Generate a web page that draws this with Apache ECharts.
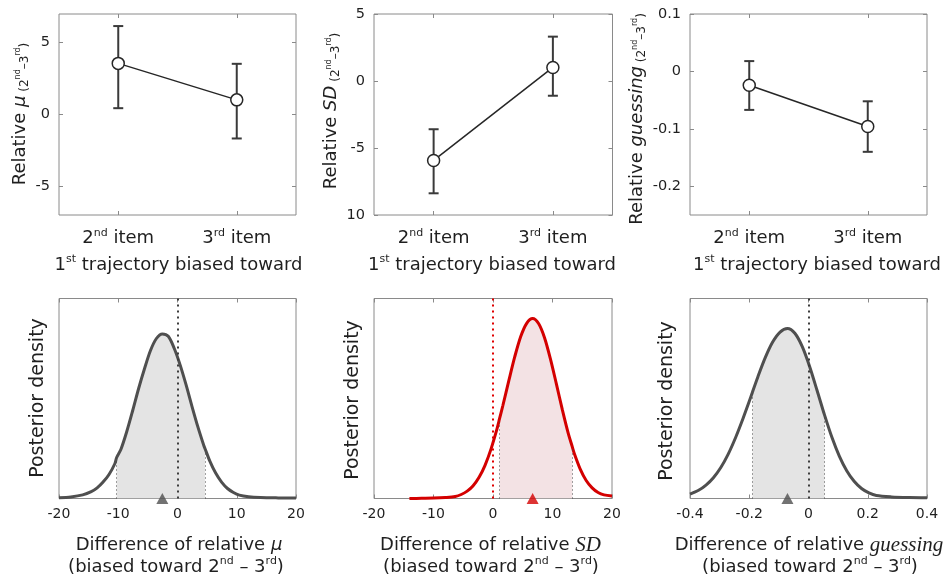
<!DOCTYPE html>
<html>
<head>
<meta charset="utf-8">
<script src="https://cdn.jsdelivr.net/npm/echarts@6/dist/echarts.min.js"></script>
<style>html,body{margin:0;padding:0;background:#fff}#c{width:950px;height:584px}</style>
</head>
<body>
<div id="c"></div>
<script>
// ---------- DATA ----------
const topCats = ['2nd item', '3rd item'];
// Relative mu
const muMean = [3.56, 1.02];
const muLo = [0.44, -1.67];
const muHi = [6.16, 3.53];
const muRange = [-7, 7];
const muTicks = [-5, 0, 5];
const muTickLabels = ['-5', '0', '5'];
// Relative SD
const sdMean = [-5.93, 1.01];
const sdLo = [-8.38, -1.10];
const sdHi = [-3.60, 3.31];
const sdRange = [-10, 5];
const sdTicks = [-10, -5, 0, 5];
const sdTickLabels = ['10', '-5', '0', '5'];
// Relative guessing
const gsMean = [-0.024, -0.096];
const gsLo = [-0.067, -0.140];
const gsHi = [0.018, -0.052];
const gsRange = [-0.25, 0.1];
const gsTicks = [-0.2, -0.1, 0, 0.1];
const gsTickLabels = ['-0.2', '-0.1', '0', '0.1'];

// Posterior densities (height as a fraction of the panel height)
const muDiffX = [-20, -18, -16, -14.56, -13.56, -12.56, -11.56, -10.56, -10.27, -9.56, -8.56, -7.56, -6.56, -5.56, -4.56, -3.56, -2.56, -1.56, -0.56, 0.44, 1.44, 2.44, 3.44, 4.44, 4.65, 5.44, 6.44, 7.44, 8.44, 9.44, 10.44, 12, 14, 17, 20];
const muDiffY = [0.004, 0.008, 0.018, 0.034, 0.053, 0.082, 0.12, 0.175, 0.205, 0.245, 0.335, 0.44, 0.55, 0.65, 0.74, 0.80, 0.823, 0.811, 0.751, 0.668, 0.569, 0.461, 0.358, 0.265, 0.249, 0.188, 0.127, 0.082, 0.050, 0.030, 0.017, 0.009, 0.005, 0.003, 0.002];
const muHdi = [-10.27, 4.65];
const muPeak = -2.56;

const sdDiffX = [-14.05, -12, -10, -8, -6.34, -5.34, -4.34, -3.34, -2.34, -1.34, -0.34, 0.66, 1.1, 1.66, 2.66, 3.66, 4.66, 5.66, 6.66, 7.66, 8.66, 9.66, 10.66, 11.66, 12.66, 13.33, 13.66, 14.66, 15.66, 16.66, 17.66, 18.66, 20];
const sdDiffY = [0, 0.001, 0.002, 0.005, 0.010, 0.020, 0.037, 0.064, 0.106, 0.166, 0.247, 0.347, 0.399, 0.465, 0.589, 0.709, 0.81, 0.876, 0.9, 0.875, 0.804, 0.697, 0.572, 0.443, 0.324, 0.258, 0.225, 0.147, 0.09, 0.053, 0.030, 0.018, 0.012];
const sdHdi = [1.1, 13.33];
const sdPeak = 6.66;

const gsDiffX = [-0.4, -0.371, -0.346, -0.321, -0.296, -0.271, -0.246, -0.221, -0.196, -0.189, -0.171, -0.146, -0.121, -0.096, -0.071, -0.046, -0.021, 0.004, 0.029, 0.054, 0.079, 0.104, 0.129, 0.154, 0.179, 0.204, 0.229, 0.28, 0.34, 0.4];
const gsDiffY = [0.022, 0.041, 0.067, 0.104, 0.155, 0.222, 0.305, 0.40, 0.502, 0.533, 0.608, 0.704, 0.782, 0.832, 0.85, 0.826, 0.759, 0.659, 0.54, 0.418, 0.306, 0.212, 0.139, 0.086, 0.050, 0.028, 0.015, 0.008, 0.005, 0.004];
const gsHdi = [-0.189, 0.054];
const gsPeak = -0.071;

const diffTicks20 = [-20, -10, 0, 10, 20];
const diffTickLabels20 = ['-20', '-10', '0', '10', '20'];
const diffTicks04 = [-0.4, -0.2, 0, 0.2, 0.4];
const diffTickLabels04 = ['-0.4', '-0.2', '0', '0.2', '0.4'];

// ---------- STYLE ----------
const FONT = 'DejaVu Sans';
const TXT = '#1f1f1f';
const BOX = '#8a8a8a';
const GRAY = '#4f4f4f';
const RED = '#d40000';

const topGrids = [
  {left: 59, top: 14, width: 237, height: 201},
  {left: 374, top: 14, width: 238.5, height: 201},
  {left: 690, top: 14, width: 237, height: 201}
];
const botGrids = [
  {left: 59, top: 298.5, width: 237, height: 200},
  {left: 374, top: 298.5, width: 238, height: 200},
  {left: 690, top: 298.5, width: 237, height: 200}
];

const catRich = {
  a: {fontFamily: FONT, fontSize: 18, lineHeight: 20, color: TXT},
  s: {fontFamily: FONT, fontSize: 11, lineHeight: 11, verticalAlign: 'top', color: TXT}
};
function catLabel(v) {
  return v.replace(/^(\d)(st|nd|rd|th)(.*)$/, '{a|$1}{s|$2}{a|$3}');
}
function labelFor(ticks, labels) {
  return function (v) {
    for (let i = 0; i < ticks.length; i++) if (Math.abs(ticks[i] - v) < 1e-9) return labels[i];
    return '';
  };
}

const grid = [], xAxis = [], yAxis = [], series = [];
const noLine = {show: false, onZero: false};

function errRender(params, api) {
  const x = api.value(0);
  const p1 = api.coord([x, api.value(1)]);
  const p2 = api.coord([x, api.value(2)]);
  const w = 5;
  const st = {stroke: '#3a3a3a', lineWidth: 2};
  return {type: 'group', children: [
    {type: 'line', shape: {x1: p1[0], y1: p1[1], x2: p2[0], y2: p2[1]}, style: st},
    {type: 'line', shape: {x1: p1[0] - w, y1: p1[1], x2: p1[0] + w, y2: p1[1]}, style: st},
    {type: 'line', shape: {x1: p2[0] - w, y1: p2[1], x2: p2[0] + w, y2: p2[1]}, style: st}
  ]};
}

function addTop(gi, g, range, ticks, labels, mean, lo, hi) {
  grid.push(Object.assign({show: true, borderColor: BOX, borderWidth: 1, backgroundColor: 'transparent', containLabel: false, outerBoundsMode: 'none'}, g));
  const xi = xAxis.length, yi = yAxis.length;
  const tick = {show: true, inside: true, length: 4, alignWithLabel: true, interval: 0, lineStyle: {color: BOX}};
  xAxis.push({type: 'category', gridIndex: gi, data: topCats, boundaryGap: true, axisLine: noLine,
    axisTick: tick, splitLine: {show: false},
    axisLabel: {interval: 0, margin: 13, formatter: catLabel, rich: catRich, color: TXT}});
  xAxis.push({type: 'category', gridIndex: gi, position: 'top', data: topCats, boundaryGap: true, axisLine: noLine,
    axisTick: tick, axisLabel: {show: false, interval: 0}, splitLine: {show: false}});
  const ytick = {show: true, inside: true, length: 4, customValues: ticks, lineStyle: {color: BOX}};
  yAxis.push({type: 'value', gridIndex: gi, min: range[0], max: range[1], axisLine: noLine, splitLine: {show: false},
    axisTick: ytick,
    axisLabel: {customValues: ticks, margin: 9, fontFamily: FONT, fontSize: 14.5, color: TXT, formatter: labelFor(ticks, labels)}});
  yAxis.push({type: 'value', gridIndex: gi, position: 'right', min: range[0], max: range[1], axisLine: noLine, splitLine: {show: false},
    axisTick: ytick, axisLabel: {show: false, customValues: ticks}});
  series.push({type: 'custom', xAxisIndex: xi, yAxisIndex: yi, renderItem: errRender, silent: true, z: 2,
    data: topCats.map((c, i) => [i, lo[i], hi[i]])});
  series.push({type: 'line', xAxisIndex: xi, yAxisIndex: yi, data: mean, symbol: 'circle', symbolSize: 12, silent: true, z: 3,
    itemStyle: {color: '#ffffff', borderColor: '#262626', borderWidth: 1.5},
    lineStyle: {color: '#262626', width: 1.5}});
}

function addBot(gi, g, range, ticks, labels, xs, ys, hdi, peak, color, fill, zeroColor) {
  grid.push(Object.assign({show: true, borderColor: BOX, borderWidth: 1, backgroundColor: 'transparent', containLabel: false, outerBoundsMode: 'none'}, g));
  const xi = xAxis.length, yi = yAxis.length;
  const tick = {show: true, inside: true, length: 4, customValues: ticks, lineStyle: {color: BOX}};
  xAxis.push({type: 'value', gridIndex: gi, min: range[0], max: range[1], axisLine: noLine, splitLine: {show: false},
    axisTick: tick,
    axisLabel: {customValues: ticks, margin: 9, fontFamily: FONT, fontSize: 14, color: TXT, formatter: labelFor(ticks, labels)}});
  xAxis.push({type: 'value', gridIndex: gi, position: 'top', min: range[0], max: range[1], axisLine: noLine, splitLine: {show: false},
    axisTick: tick, axisLabel: {show: false, customValues: ticks}});
  yAxis.push({type: 'value', gridIndex: gi, min: 0, max: 1, axisLine: noLine, splitLine: {show: false},
    axisTick: {show: false}, axisLabel: {show: false}});
  const pts = xs.map((x, i) => [x, ys[i]]);
  const fillPts = pts.filter(p => p[0] >= hdi[0] - 1e-9 && p[0] <= hdi[1] + 1e-9);
  const hLo = ys[xs.indexOf(hdi[0])], hHi = ys[xs.indexOf(hdi[1])];
  const thin = {type: [1, 3], width: 1, color: '#444'};
  series.push({type: 'line', xAxisIndex: xi, yAxisIndex: yi, data: fillPts, smooth: 0.3, showSymbol: false, silent: true, z: 1,
    lineStyle: {width: 0}, areaStyle: {color: fill, opacity: 1},
    markLine: {silent: true, symbol: 'none', label: {show: false}, animation: false,
      data: [
        [{coord: [hdi[0], 0], lineStyle: thin}, {coord: [hdi[0], hLo]}],
        [{coord: [hdi[1], 0], lineStyle: thin}, {coord: [hdi[1], hHi]}],
        {xAxis: 0, lineStyle: {type: [2, 4], width: 2, color: zeroColor}}
      ]}});
  series.push({type: 'line', xAxisIndex: xi, yAxisIndex: yi, data: pts, smooth: 0.3, showSymbol: false, silent: true, z: 3,
    lineStyle: {width: 3, color: color}});
  series.push({type: 'scatter', xAxisIndex: xi, yAxisIndex: yi, data: [[peak, 0]], symbol: 'triangle', symbolSize: [12, 11],
    itemStyle: {color: color}, silent: true, z: 5, clip: false});
}

addTop(0, topGrids[0], muRange, muTicks, muTickLabels, muMean, muLo, muHi);
addTop(1, topGrids[1], sdRange, sdTicks, sdTickLabels, sdMean, sdLo, sdHi);
addTop(2, topGrids[2], gsRange, gsTicks, gsTickLabels, gsMean, gsLo, gsHi);
addBot(3, botGrids[0], [-20, 20], diffTicks20, diffTickLabels20, muDiffX, muDiffY, muHdi, muPeak, GRAY, '#e4e4e4', '#3c3c3c');
addBot(4, botGrids[1], [-20, 20], diffTicks20, diffTickLabels20, sdDiffX, sdDiffY, sdHdi, sdPeak, RED, '#f3e2e4', '#e00000');
addBot(5, botGrids[2], [-0.4, 0.4], diffTicks04, diffTickLabels04, gsDiffX, gsDiffY, gsHdi, gsPeak, GRAY, '#e4e4e4', '#3c3c3c');

// ---------- TEXT ----------
const G = {
  a: {fontFamily: FONT, fontSize: 18, lineHeight: 22, fill: TXT},
  p: {fontFamily: FONT, fontSize: 19, lineHeight: 22, fill: TXT},
  s: {fontFamily: FONT, fontSize: 11, lineHeight: 11, verticalAlign: 'top', fill: TXT},
  i: {fontFamily: FONT, fontStyle: 'italic', fontSize: 18, lineHeight: 22, fill: TXT},
  r: {fontFamily: 'Liberation Serif', fontStyle: 'italic', fontSize: 21, lineHeight: 22, fill: TXT},
  m: {fontFamily: FONT, fontSize: 12, lineHeight: 14, verticalAlign: 'bottom', fill: TXT},
  n: {fontFamily: FONT, fontSize: 8, lineHeight: 8, verticalAlign: 'top', padding: [5, 0, 0, 0], fill: TXT}
};
function txt(x, y, text, rot) {
  return {type: 'text', x: x, y: y, rotation: rot ? Math.PI / 2 : 0, silent: true, z: 100,
    style: {text: text, rich: G, fontFamily: FONT, fontSize: 18, fill: TXT, align: 'center', verticalAlign: 'middle'}};
}
const supPart = '{m| (2}{n|nd}{m|–3}{n|rd}{m|)}';
const biased = '{a|(biased toward 2}{s|nd}{a| – 3}{s|rd}{a|)}';
const trajectory = '{a|1}{s|st}{a| trajectory biased toward}';
const graphic = [
  txt(20, 114, '{a|Relative }{i|μ}' + supPart, true),
  txt(331, 111, '{a|Relative }{i|SD}' + supPart, true),
  txt(637, 119, '{a|Relative }{i|guessing}' + supPart, true),
  txt(178.5, 265, trajectory),
  txt(492, 265, trajectory),
  txt(817, 265, trajectory),
  txt(38, 398, '{p|Posterior density}', true),
  txt(353, 400, '{p|Posterior density}', true),
  txt(667, 401, '{p|Posterior density}', true),
  txt(179, 545, '{a|Difference of relative }{i|μ}'),
  txt(176, 567, biased),
  txt(490.5, 545, '{a|Difference of relative }{r|SD}'),
  txt(491, 567, biased),
  txt(809, 545, '{a|Difference of relative }{r|guessing}'),
  txt(810, 567, biased)
];

const chart = echarts.init(document.getElementById('c'), null, {renderer: 'canvas'});
chart.setOption({
  animation: false,
  backgroundColor: '#ffffff',
  grid: grid,
  xAxis: xAxis,
  yAxis: yAxis,
  series: series,
  graphic: graphic
});
</script>
</body>
</html>
